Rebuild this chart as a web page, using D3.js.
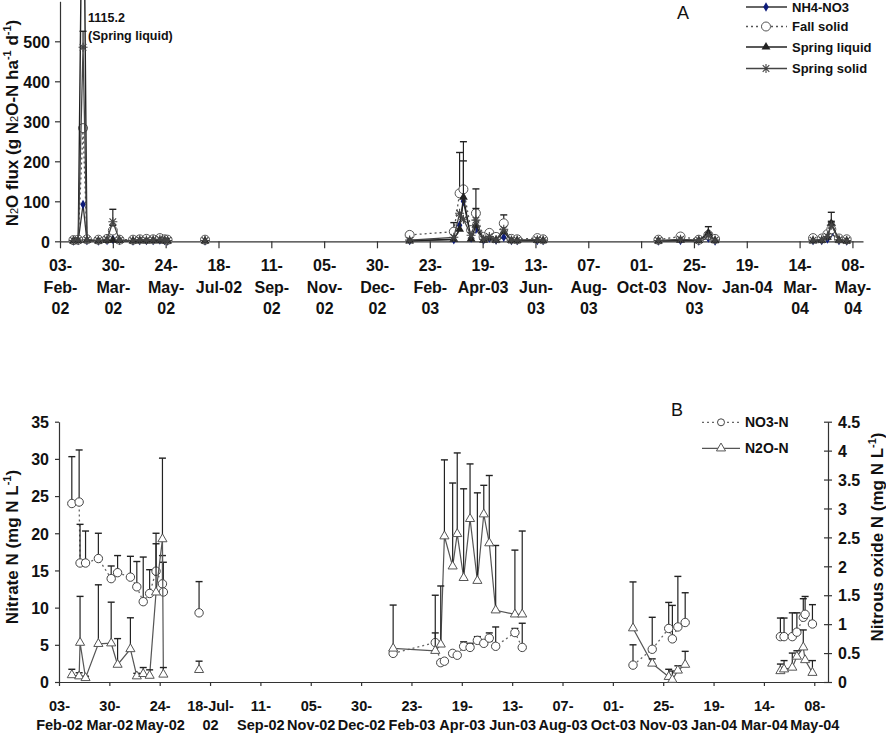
<!DOCTYPE html>
<html><head><meta charset="utf-8">
<script src="https://cdn.jsdelivr.net/npm/d3@7"></script>
<style>body{margin:0;background:#fff}</style>
</head><body><svg id="c" width="886" height="733"></svg>
<script>
// ---------- DATA ----------
const tickDates = ["2002-02-03","2002-03-30","2002-05-24","2002-07-18","2002-09-11","2002-11-05","2002-12-30","2003-02-23","2003-04-19","2003-06-13","2003-08-07","2003-10-01","2003-11-25","2004-01-19","2004-03-14","2004-05-08"];
const topTickLabels = [["03-","Feb-","02"],["30-","Mar-","02"],["24-","May-","02"],["18-","Jul-02"],["11-","Sep-","02"],["05-","Nov-","02"],["30-","Dec-","02"],["23-","Feb-","03"],["19-","Apr-03"],["13-","Jun-","03"],["07-","Aug-","03"],["01-","Oct-03"],["25-","Nov-","03"],["19-","Jan-04"],["14-","Mar-","04"],["08-","May-","04"]];
const bottomTickLabels = [["03-","Feb-02"],["30-","Mar-02"],["24-","May-02"],["18-Jul-","02"],["11-","Sep-02"],["05-","Nov-02"],["30-","Dec-02"],["23-","Feb-03"],["19-","Apr-03"],["13-","Jun-03"],["07-","Aug-03"],["01-","Oct-03"],["25-","Nov-03"],["19-","Jan-04"],["14-","Mar-04"],["08-","May-04"]];
const fluxTicks = [0,100,200,300,400,500];
const nitrateTicks = [0,5,10,15,20,25,30,35];
const nitrousTicks = [0,0.5,1,1.5,2,2.5,3,3.5,4,4.5];

// Panel A: N2O flux
const fluxDates = ["2002-02-17","2002-02-22","2002-02-27","2002-03-03","2002-03-15","2002-03-24","2002-03-30","2002-04-06","2002-04-20","2002-04-27","2002-05-04","2002-05-11","2002-05-18","2002-05-23","2002-05-26","2002-07-04","2003-02-02","2003-03-20","2003-03-26","2003-03-30","2003-04-07","2003-04-12","2003-04-20","2003-04-26","2003-05-03","2003-05-11","2003-05-19","2003-05-25","2003-06-15","2003-06-21","2003-10-19","2003-11-11","2003-11-30","2003-12-10","2003-12-17","2004-03-28","2004-04-06","2004-04-12","2004-04-16","2004-04-24","2004-05-02"];
const fluxGroup = [0,0,0,0,0,0,0,0,0,0,0,0,0,0,0,1,2,2,2,2,2,2,2,2,2,2,2,2,2,2,3,3,3,3,3,4,4,4,4,4,4];
const nh4no3 = [1,2,92,2,1,2,5,2,1,2,2,2,3,2,1,1, 2,4,40,100,8,30,3,8,3,10,2,2,2,2, 1,2,1,8,1, 2,2,6,20,2,1];
const fallSolid = [3,4,283,5,4,6,27,4,4,5,6,5,8,5,4,4, 16,24,120,130,28,70,11,21,11,45,6,5,8,5, 4,12,4,16,6, 8,7,18,30,7,5];
const fallSolidErr = [null,null,null,null,null,null,40,null,null,null,null,null,null,null,null,null, 22.5,46.7,222,249,null,131,null,null,null,66,null,null,null,null, null,null,null,null,null, null,null,null,50,null,null];
const springLiquid = [1,2,1115.2,3,1,2,3,2,1,2,1,2,1,2,1,1, 1,5,30,110,6,40,3,8,3,24,2,2,2,2, 1,3,2,21,2, 1,2,10,45,3,1];
const springLiquidErr = [null,null,1500,null,null,null,null,null,null,null,null,null,null,null,null,null, null,null,null,201,null,null,null,null,null,null,null,null,null,null, null,null,null,null,null, null,null,null,null,null,null];
const springSolid = [2,3,485,4,2,5,49,3,2,4,3,4,5,3,2,2, 3,10,70,55,15,53,5,12,4,30,3,3,4,3, 2,5,3,14,3, 3,4,12,40,4,2];
const springSolidErr = [null,null,525,null,null,null,80,null,null,null,null,null,null,null,null,null, null,null,null,null,null,82,null,null,null,null,null,null,null,null, null,null,null,36.6,null, null,null,null,72.5,null,null];

// Panel B: nitrate and nitrous oxide in water
const waterDates = ["2002-02-17","2002-02-25","2002-02-26","2002-03-04","2002-03-18","2002-04-01","2002-04-08","2002-04-22","2002-04-29","2002-05-06","2002-05-13","2002-05-20","2002-05-27","2002-05-28","2002-07-06","2003-02-03","2003-03-21","2003-03-27","2003-03-31","2003-04-09","2003-04-14","2003-04-21","2003-04-28","2003-05-06","2003-05-13","2003-05-19","2003-05-26","2003-06-16","2003-06-24","2003-10-23","2003-11-13","2003-12-01","2003-12-05","2003-12-11","2003-12-19","2004-04-01","2004-04-05","2004-04-14","2004-04-19","2004-04-26","2004-04-28","2004-05-06"];
const waterGroup = [0,0,0,0,0,0,0,0,0,0,0,0,0,0,1,2,2,2,2,2,2,2,2,2,2,2,2,2,2,3,3,3,3,3,3,4,4,4,4,4,4,4];
const no3N = [24.0,24.2,16.0,16.0,16.6,13.9,14.7,14.1,12.8,10.8,11.9,14.9,13.2,12.1,9.3, 3.85,5.3,2.6,2.8,3.85,3.6,4.8,4.65,5.6,5.2,5.9,4.8,6.65,4.65, 2.27,4.4,7.2,5.8,7.4,8.0, 6.1,6.1,6.1,6.7,8.7,9.1,7.8];
const no3NErr = [30.3,31.2,21.2,20.3,20.0,15.6,17.0,16.9,16.2,16.8,15.1,20.0,17.0,16.1,13.5, null,6.6,null,null,null,null,5.4,5.2,6.1,null,6.6,7.4,7.2,7.9, 5.0,8.7,10.7,10.3,14.2,12.0, 8.6,8.6,9.3,9.3,11.2,11.5,10.4];
const n2oN = [0.12,0.10,0.68,0.07,0.66,0.67,0.30,0.57,0.10,0.14,0.11,1.55,2.47,0.13,0.21, 0.58,0.54,0.65,2.52,2.00,2.56,1.80,2.82,1.75,2.90,2.40,1.24,1.17,1.17, 0.93,0.32,0.09,0.04,0.20,0.30, 0.19,0.22,0.25,0.44,0.60,0.38,0.16];
const n2oNErr = [0.22,0.16,1.48,0.10,1.68,1.38,0.75,1.11,0.15,0.25,0.21,2.39,3.87,0.25,0.36, 1.33,1.50,1.66,3.84,3.44,3.96,3.34,3.77,3.27,3.40,3.57,2.36,2.28,2.61, 1.73,0.40,0.22,0.19,0.28,0.53, 0.31,0.37,0.50,0.54,0.90,null,0.37];

// ---------- DRAW ----------
const parse = d3.utcParse("%Y-%m-%d");
const svg = d3.select("#c");
const FONT = "Arial, 'Liberation Sans', sans-serif";
const AX = "#333";
const ticks = tickDates.map(parse);

function styleAxis(g){
  g.attr("font-family", FONT);
  g.selectAll("path,line").attr("stroke", AX).attr("stroke-width", 1.2);
  g.selectAll("text").attr("font-size", 16).attr("font-weight", "bold").attr("fill", "#111");
}
function multiLabels(g, labels, y0, dy, fs){
  g.selectAll(".tick").each(function(d, i){
    const t = d3.select(this).append("text").attr("text-anchor","middle").attr("font-family",FONT)
      .attr("font-weight","bold").attr("font-size",fs).attr("fill","#111");
    labels[i].forEach((s, j) => t.append("tspan").attr("x", 0).attr("y", y0 + j*dy).text(s));
  });
}
// markers
const mk = {
  circle: (r, stroke) => (g, x, y) => g.append("circle").attr("cx",x).attr("cy",y).attr("r",r).attr("fill","#fff").attr("stroke",stroke).attr("stroke-width",1),
  triFill: (g, x, y) => g.append("path").attr("d", d3.symbol(d3.symbolTriangle, 34)()).attr("transform",`translate(${x},${y})`).attr("fill","#222"),
  triOpen: (g, x, y) => g.append("path").attr("d", d3.symbol(d3.symbolTriangle, 36)()).attr("transform",`translate(${x},${y})`).attr("fill","#fff").attr("stroke","#555").attr("stroke-width",1),
  diamond: (g, x, y) => g.append("path").attr("d", d3.symbol(d3.symbolDiamond, 26)()).attr("transform",`translate(${x},${y})`).attr("fill","#0d1b7a"),
  aster: (g, x, y) => g.append("path").attr("d","M-4.5,0H4.5M0,-4.5V4.5M-3.3,-3.3L3.3,3.3M-3.3,3.3L3.3,-3.3").attr("transform",`translate(${x},${y})`).attr("fill","none").attr("stroke","#444").attr("stroke-width",1.1)
};
function series(g, dates, grp, vals, errs, x, y, st){
  const pts = dates.map((d,i)=>({x:x(parse(d)), v:vals[i], e:errs?errs[i]:null, g:grp[i]})).filter(p=>p.v!=null);
  const line = d3.line().x(p=>p.x).y(p=>y(p.v));
  d3.groups(pts, p=>p.g).forEach(([k, arr]) => {
    g.append("path").attr("d", line(arr)).attr("fill","none").attr("stroke", st.color)
      .attr("stroke-width", st.lw).attr("stroke-dasharray", st.dash || null);
  });
  pts.filter(p=>p.e!=null).forEach(p=>{
    g.append("line").attr("x1",p.x).attr("x2",p.x).attr("y1",y(p.v)).attr("y2",y(p.e)).attr("stroke","#222").attr("stroke-width",1.2);
    g.append("line").attr("x1",p.x-3.5).attr("x2",p.x+3.5).attr("y1",y(p.e)).attr("y2",y(p.e)).attr("stroke","#222").attr("stroke-width",1.4);
  });
  pts.forEach(p => st.marker(g, p.x, y(p.v)));
}

// ===== Panel A =====
const xT = d3.scaleUtc().domain([parse("2002-02-03"), parse("2004-05-19")]).range([60, 863]);
const yT = d3.scaleLinear().domain([0, 600]).range([241.3, 1.3]);
svg.append("clipPath").attr("id","clipT").append("rect").attr("x",50).attr("y",0).attr("width",830).attr("height",248);

const axTx = svg.append("g").attr("transform","translate(0,241.3)")
  .call(d3.axisBottom(xT).tickValues(ticks).tickSize(7).tickSizeOuter(0).tickFormat(""));
styleAxis(axTx);
multiLabels(axTx, topTickLabels, 30, 21.5, 16);
const axTy = svg.append("g").attr("transform","translate(60,0)")
  .call(d3.axisLeft(yT).tickValues(fluxTicks).tickSize(5).tickSizeOuter(0).tickPadding(5).tickFormat(d3.format("~g")));
styleAxis(axTy);
axTy.selectAll("text").attr("dy","0.36em");

const gA = svg.append("g").attr("clip-path","url(#clipT)");
series(gA, fluxDates, fluxGroup, nh4no3, null, xT, yT, {color:"#333", lw:1.3, marker:mk.diamond});
series(gA, fluxDates, fluxGroup, fallSolid, fallSolidErr, xT, yT, {color:"#555", lw:1.3, dash:"2,3", marker:mk.circle(4.5,"#555")});
series(gA, fluxDates, fluxGroup, springLiquid, springLiquidErr, xT, yT, {color:"#222", lw:1.4, marker:mk.triFill});
series(gA, fluxDates, fluxGroup, springSolid, springSolidErr, xT, yT, {color:"#444", lw:1.3, marker:mk.aster});

// annotation
const ann = svg.append("text").attr("font-family",FONT).attr("font-weight","bold").attr("font-size",12.5).attr("fill","#111");
ann.append("tspan").attr("x",88).attr("y",22).text("1115.2");
ann.append("tspan").attr("x",88).attr("y",40).text("(Spring liquid)");
svg.append("text").attr("x",683).attr("y",18.5).attr("text-anchor","middle").attr("font-family",FONT).attr("font-size",18).attr("fill","#111").text("A");

// legend A
const legA = [
  {name:"NH4-NO3", y:7, color:"#333", dash:null, marker:mk.diamond},
  {name:"Fall solid", y:26.5, color:"#555", dash:"2,3", marker:mk.circle(4.5,"#555")},
  {name:"Spring liquid", y:47, color:"#222", dash:null, marker:mk.triFill},
  {name:"Spring solid", y:68.5, color:"#444", dash:null, marker:mk.aster}
];
legA.forEach(l=>{
  svg.append("line").attr("x1",746).attr("x2",787).attr("y1",l.y).attr("y2",l.y).attr("stroke",l.color).attr("stroke-width",1.3).attr("stroke-dasharray",l.dash);
  l.marker(svg, 766, l.y);
  svg.append("text").attr("x",792).attr("y",l.y+4.5).attr("font-family",FONT).attr("font-weight","bold").attr("font-size",13).attr("fill","#111").text(l.name);
});

// y title A
const tA = svg.append("text").attr("transform","translate(12,123) rotate(-90)").attr("text-anchor","middle")
  .attr("dy","0.36em").attr("font-family",FONT).attr("font-weight","bold").attr("font-size",17).attr("fill","#111");
tA.append("tspan").text("N");
tA.append("tspan").attr("font-size",11).attr("font-weight","normal").text("2");
tA.append("tspan").text("O flux (g N");
tA.append("tspan").attr("font-size",11).attr("font-weight","normal").text("2");
tA.append("tspan").text("O-N ha");
tA.append("tspan").attr("font-size",11).attr("dy","-7").text("-1");
tA.append("tspan").attr("dy","7").text(" d");
tA.append("tspan").attr("font-size",11).attr("dy","-7").text("-1");
tA.append("tspan").attr("dy","7").text(")");

// ===== Panel B =====
const xB = d3.scaleUtc().domain([parse("2002-02-03"), parse("2004-05-23")]).range([59, 828]);
const yL = d3.scaleLinear().domain([0, 35]).range([682, 421.7]);
const yR = d3.scaleLinear().domain([0, 4.5]).range([682, 421.7]);

const axBx = svg.append("g").attr("transform","translate(0,682)")
  .call(d3.axisBottom(xB).tickValues(ticks).tickSize(4).tickSizeOuter(0).tickFormat(""));
styleAxis(axBx);
multiLabels(axBx, bottomTickLabels, 29, 18.5, 14.5);
const axBl = svg.append("g").attr("transform","translate(59,0)")
  .call(d3.axisLeft(yL).tickValues(nitrateTicks).tickSize(4).tickSizeOuter(0).tickPadding(6).tickFormat(d3.format("~g")));
styleAxis(axBl);
axBl.selectAll("text").attr("dy","0.36em");
const axBr = svg.append("g").attr("transform","translate(828,0)")
  .call(d3.axisRight(yR).tickValues(nitrousTicks).tickSize(4).tickSizeOuter(0).tickPadding(6).tickFormat(d3.format("~g")));
styleAxis(axBr);
axBr.selectAll(".tick line").attr("x1",-4).attr("x2",4);
axBr.selectAll("text").attr("dy","0.36em");

const gB = svg.append("g");
series(gB, waterDates, waterGroup, no3N, no3NErr, xB, yL, {color:"#666", lw:1.3, dash:"2,3", marker:mk.circle(4.2,"#444")});
series(gB, waterDates, waterGroup, n2oN, n2oNErr, xB, yR, {color:"#555", lw:1.2, marker:mk.triOpen});

svg.append("text").attr("x",677).attr("y",416).attr("text-anchor","middle").attr("font-family",FONT).attr("font-size",18).attr("fill","#111").text("B");
const legB = [
  {name:"NO3-N", y:422.3, color:"#666", dash:"2,3", marker:mk.circle(3.5,"#444")},
  {name:"N2O-N", y:448.3, color:"#555", dash:null, marker:mk.triOpen}
];
legB.forEach(l=>{
  svg.append("line").attr("x1",702).attr("x2",740).attr("y1",l.y).attr("y2",l.y).attr("stroke",l.color).attr("stroke-width",1.3).attr("stroke-dasharray",l.dash);
  l.marker(svg, 721, l.y);
  svg.append("text").attr("x",745).attr("y",l.y+5).attr("font-family",FONT).attr("font-weight","bold").attr("font-size",14).attr("fill","#111").text(l.name);
});

const tBL = svg.append("text").attr("transform","translate(12,547) rotate(-90)").attr("text-anchor","middle")
  .attr("dy","0.36em").attr("font-family",FONT).attr("font-weight","bold").attr("font-size",17).attr("fill","#111");
tBL.append("tspan").text("Nitrate N (mg N L");
tBL.append("tspan").attr("font-size",11).attr("dy","-7").text("-1");
tBL.append("tspan").attr("dy","7").text(")");
const tBR = svg.append("text").attr("transform","translate(877,537) rotate(-90)").attr("text-anchor","middle")
  .attr("dy","0.36em").attr("font-family",FONT).attr("font-weight","bold").attr("font-size",17).attr("fill","#111");
tBR.append("tspan").text("Nitrous oxide N (mg N L");
tBR.append("tspan").attr("font-size",11).attr("dy","-7").text("-1");
tBR.append("tspan").attr("dy","7").text(")");
</script></body></html>
